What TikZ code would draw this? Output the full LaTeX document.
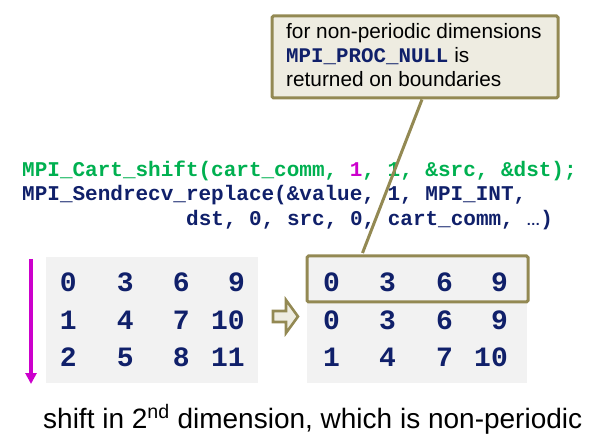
\documentclass[tikz,border=0pt]{standalone}
\usepackage{fontspec}
\setmainfont{Liberation Sans}
\newfontfamily\cmono{Liberation Mono}
\usetikzlibrary{arrows.meta,calc}
\definecolor{olive}{HTML}{938953}
\definecolor{beige}{HTML}{EEECE1}
\definecolor{navy}{HTML}{10206A}
\definecolor{cgreen}{HTML}{00B050}
\definecolor{cmag}{HTML}{CC00CC}
\definecolor{lgrey}{HTML}{F2F2F2}
\begin{document}
\begin{tikzpicture}[x=1pt,y=-1pt,
  codetxt/.style={anchor=base west,inner sep=0pt,font=\cmono\bfseries\fontsize{21}{21}\selectfont,text=navy},
  calltxt/.style={anchor=base west,inner sep=0pt,font=\fontsize{20.8}{21}\selectfont,text=black},
  numtxt/.style={anchor=east,inner sep=0pt,font=\cmono\bfseries\fontsize{28}{28}\selectfont,text=navy},
  greybox/.style={fill=lgrey,draw=none},
  olivebox/.style={draw=olive,line width=3pt,rounded corners=1.5pt},
]
\useasboundingbox (0,0) rectangle (591,443);

% callout
\node[olivebox,fill=beige,minimum width=286pt,minimum height=82pt,inner sep=0pt] (callout) at (415,57) {};
\node[calltxt] (c1) at (286,39) {for non-periodic dimensions};
\node[calltxt] (c2) at (286,63) {{\cmono\bfseries\color{navy}MPI\_PROC\_NULL} is};
\node[calltxt] (c3) at (286,87) {returned on boundaries};

% code
\node[codetxt] (code1) at (22,177) {{\color{cgreen}MPI\_Cart\_shift(cart\_comm, }{\color{cmag}1}{\color{cgreen}, 1, \&src, \&dst);}};
\node[codetxt] (code2) at (22,201) {MPI\_Sendrecv\_replace(\&value, 1, MPI\_INT,};
\node[codetxt] (code3) at (186,226) {dst, 0, src, 0, cart\_comm, {\normalfont\bfseries\fontsize{14}{14}\selectfont\ldots})};

% matrices
\node[greybox,minimum width=212pt,minimum height=126pt,inner sep=0pt] (lmat) at (152,320) {};
\node[greybox,minimum width=220pt,minimum height=127pt,inner sep=0pt] (rmat) at (417,319.5) {};
\node[olivebox,minimum width=221pt,minimum height=46pt,inner sep=0pt] (hl) at (417.5,279) {};

\foreach \r/\y/\a/\b/\c/\d in {1/282/0/3/6/9, 2/320/1/4/7/10, 3/357/2/5/8/11}{
  \node[numtxt] (l\r a) at (77,\y) {\a};
  \node[numtxt] (l\r b) at (134,\y) {\b};
  \node[numtxt] (l\r c) at (190,\y) {\c};
  \node[numtxt] (l\r d) at (245,\y) {\d};
}
\foreach \r/\y/\a/\b/\c/\d in {1/282/0/3/6/9, 2/320/0/3/6/9, 3/357/1/4/7/10}{
  \node[numtxt] (r\r a) at (340,\y) {\a};
  \node[numtxt] (r\r b) at (396,\y) {\b};
  \node[numtxt] (r\r c) at (453,\y) {\c};
  \node[numtxt] (r\r d) at (508,\y) {\d};
}

% pointer line from callout to highlighted row
\coordinate (ptop) at ($(callout.south)+(7,0)$);
\coordinate (pbot) at ($(hl.north)+(-55,-1.5)$);
\draw[olive,line width=3pt] (ptop) -- (pbot);

% magenta direction arrow
\coordinate (mtop) at (31,259);
\coordinate (mbot) at (31,384);
\draw[cmag,line width=3.5pt,-{Triangle[width=11pt,length=11pt]}] (mtop) -- (mbot);

% hollow shift arrow
\draw[olive,fill=beige,line width=2.6pt,line join=miter]
  (273,311) -- (286,311) -- (286,300) -- (298,316.5) -- (286,333) -- (286,322) -- (273,322) -- cycle;

% caption
\node[anchor=base west,inner sep=0pt,font=\fontsize{28}{28}\selectfont] (caption) at (43,428)
  {shift in 2\textsuperscript{nd} dimension, which is non-periodic};
\end{tikzpicture}
\end{document}
